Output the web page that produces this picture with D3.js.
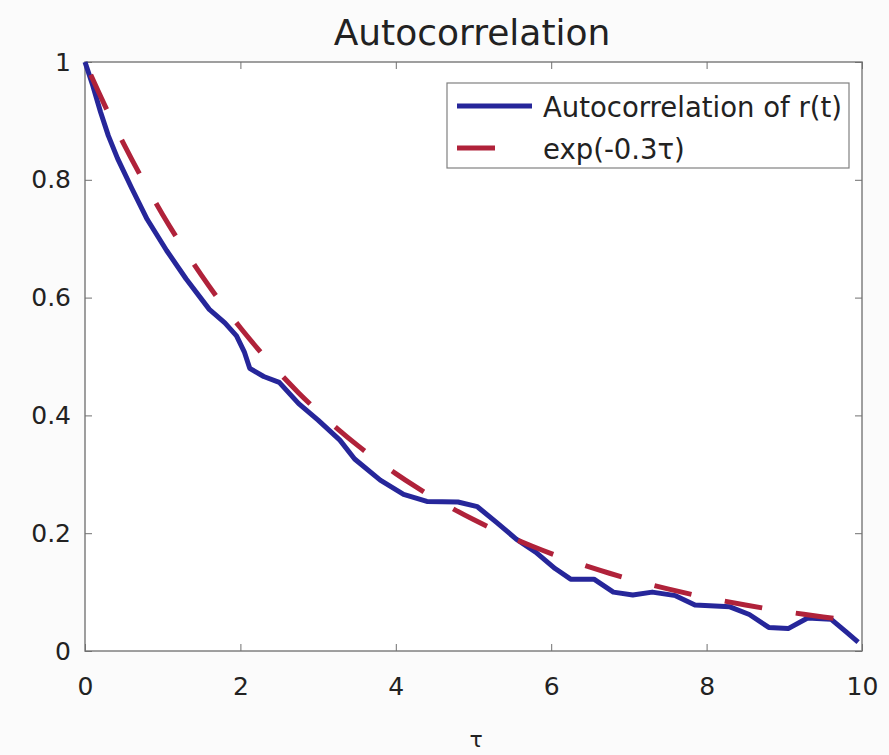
<!DOCTYPE html>
<html>
<head>
<meta charset="utf-8">
<script src="https://cdn.jsdelivr.net/npm/d3@7/dist/d3.min.js"></script>
<style>
  html, body { margin: 0; padding: 0; background: #fbfbfb; }
  svg { display: block; font-family: "DejaVu Sans", sans-serif; }
</style>
</head>
<body>
<svg id="chart" width="889" height="755"></svg>
<script>
// Estimated autocorrelation of the simulated signal, sampled at lag tau
const lagTau = [0, 0.1, 0.2, 0.3, 0.42, 0.6, 0.8, 1.05, 1.3, 1.6, 1.8, 1.95, 2.05, 2.12, 2.3, 2.5,
  2.75, 3.0, 3.28, 3.47, 3.8, 4.1, 4.4, 4.8, 5.05, 5.3, 5.55, 5.8, 6.05, 6.25, 6.55, 6.8,
  7.05, 7.3, 7.6, 7.85, 8.3, 8.55, 8.8, 9.05, 9.3, 9.6, 9.8, 9.95];
const acfValues = [1.0, 0.96, 0.915, 0.875, 0.836, 0.786, 0.733, 0.68, 0.632, 0.58, 0.557, 0.535, 0.508, 0.48, 0.466, 0.456,
  0.42, 0.392, 0.358, 0.326, 0.29, 0.266, 0.254, 0.253, 0.245, 0.218, 0.19, 0.168, 0.14, 0.122, 0.122, 0.1,
  0.095, 0.1, 0.094, 0.078, 0.075, 0.062, 0.04, 0.038, 0.056, 0.054, 0.032, 0.015];

// Theoretical curve exp(-0.3 tau), tabulated every 0.25
const theoryTau = [0, 0.25, 0.5, 0.75, 1, 1.25, 1.5, 1.75, 2, 2.25, 2.5, 2.75, 3, 3.25, 3.5, 3.75, 4,
  4.25, 4.5, 4.75, 5, 5.25, 5.5, 5.75, 6, 6.25, 6.5, 6.75, 7, 7.25, 7.5, 7.75, 8,
  8.25, 8.5, 8.75, 9, 9.25, 9.5, 9.75, 10];
const theoryValues = [1, 0.9277, 0.8607, 0.7985, 0.7408, 0.6873, 0.6376, 0.5916, 0.5488, 0.5092, 0.4724,
  0.4382, 0.4066, 0.3772, 0.3499, 0.3247, 0.3012, 0.2794, 0.2592, 0.2405, 0.2231, 0.2070, 0.1920,
  0.1782, 0.1653, 0.1534, 0.1423, 0.1320, 0.1225, 0.1136, 0.1054, 0.0978, 0.0907, 0.0842, 0.0781,
  0.0724, 0.0672, 0.0623, 0.0578, 0.0537, 0.0498];

const xTicks = [0, 2, 4, 6, 8, 10];
const yTicks = [0, 0.2, 0.4, 0.6, 0.8, 1];
const yTickLabels = ["0", "0.2", "0.4", "0.6", "0.8", "1"];

const titleText = "Autocorrelation";
const xLabelText = "τ";
const seriesNames = ["Autocorrelation of r(t)", "exp(-0.3τ)"];
const seriesColors = ["#26269a", "#b0223a"];

const svg = d3.select("#chart");
const plotLeft = 85, plotRight = 862, plotTop = 62, plotBottom = 651;

const x = d3.scaleLinear().domain([0, 10]).range([plotLeft, plotRight]);
const y = d3.scaleLinear().domain([0, 1]).range([plotBottom, plotTop]);

// axes box
svg.append("rect")
  .attr("x", plotLeft).attr("y", plotTop)
  .attr("width", plotRight - plotLeft).attr("height", plotBottom - plotTop)
  .attr("fill", "#ffffff").attr("stroke", "#808080").attr("stroke-width", 1.5);

function styleAxis(g) {
  g.select(".domain").remove();
  g.selectAll(".tick line").attr("stroke", "#707070").attr("stroke-width", 1);
  g.selectAll(".tick text").attr("fill", "#222").style("font-size", "25px")
    .style("font-family", "DejaVu Sans, sans-serif");
}

const yFmt = d => yTickLabels[yTicks.indexOf(d)];

svg.append("g").attr("transform", `translate(0,${plotBottom})`)
  .call(d3.axisBottom(x).tickValues(xTicks).tickSizeInner(-7).tickSizeOuter(0).tickPadding(26))
  .call(styleAxis);
svg.append("g").attr("transform", `translate(0,${plotTop})`)
  .call(d3.axisTop(x).tickValues(xTicks).tickSizeInner(-7).tickSizeOuter(0).tickFormat(""))
  .call(styleAxis);
svg.append("g").attr("transform", `translate(${plotLeft},0)`)
  .call(d3.axisLeft(y).tickValues(yTicks).tickSizeInner(-7).tickSizeOuter(0).tickPadding(14).tickFormat(yFmt))
  .call(styleAxis);
svg.append("g").attr("transform", `translate(${plotRight},0)`)
  .call(d3.axisRight(y).tickValues(yTicks).tickSizeInner(-7).tickSizeOuter(0).tickFormat(""))
  .call(styleAxis);

// curves
const line = d3.line().x(d => x(d[0])).y(d => y(d[1]));
const acfPts = lagTau.map((t, i) => [t, acfValues[i]]);
const theoryPts = theoryTau.map((t, i) => [t, theoryValues[i]]);

svg.append("path").datum(acfPts)
  .attr("d", line).attr("fill", "none")
  .attr("stroke", seriesColors[0]).attr("stroke-width", 5)
  .attr("stroke-linejoin", "round");

svg.append("path").datum(theoryPts)
  .attr("d", d3.line().curve(d3.curveMonotoneX).x(d => x(d[0])).y(d => y(d[1])))
  .attr("fill", "none")
  .attr("stroke", seriesColors[1]).attr("stroke-width", 5)
  .attr("stroke-dasharray", "38,34").attr("stroke-dashoffset", 58);

// title and x label
svg.append("text").attr("x", 472).attr("y", 45)
  .attr("text-anchor", "middle").style("font-size", "36px").attr("fill", "#222")
  .text(titleText);
svg.append("text").attr("x", 476).attr("y", 747)
  .attr("text-anchor", "middle").style("font-size", "22px").attr("fill", "#222")
  .text(xLabelText);

// legend
const lg = svg.append("g");
lg.append("rect").attr("x", 447).attr("y", 83).attr("width", 402).attr("height", 85)
  .attr("fill", "#ffffff").attr("stroke", "#808080").attr("stroke-width", 1.2);
const rows = [106, 148];
seriesNames.forEach((name, i) => {
  lg.append("line").attr("x1", 457).attr("x2", i === 1 ? 529 : 532).attr("y1", rows[i]).attr("y2", rows[i])
    .attr("stroke", seriesColors[i]).attr("stroke-width", 5)
    .attr("stroke-dasharray", i === 1 ? "38,34" : null);
  lg.append("text").attr("x", 543).attr("y", rows[i] + 11)
    .style("font-size", "27.5px").attr("fill", "#222").text(name);
});
</script>
</body>
</html>
